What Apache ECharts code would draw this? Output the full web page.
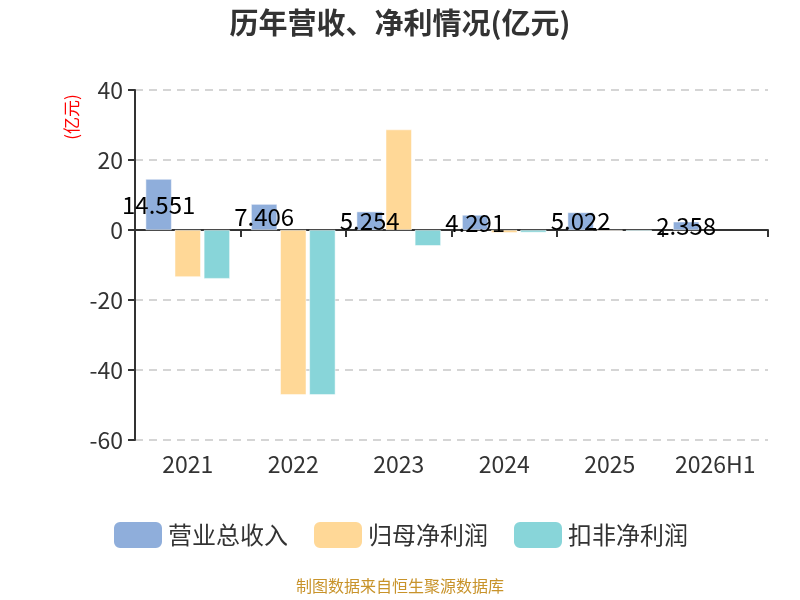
<!DOCTYPE html>
<html>
<head>
<meta charset="utf-8">
<script src="https://cdn.jsdelivr.net/npm/echarts@6/dist/echarts.min.js"></script>
<style>
  html, body { margin: 0; padding: 0; background: #fff; }
  #main { width: 800px; height: 600px; }
</style>
</head>
<body>
<div id="main"></div>
<script>
var years = ['2021', '2022', '2023', '2024', '2025', '2026H1'];
var revenue = [14.551, 7.406, 5.254, 4.291, 5.022, 2.358];
var netProfit = [-13.4, -47.1, 28.7, -0.8, -0.2, null];
var deductedProfit = [-13.9, -47.1, -4.5, -0.7, -0.3, null];
var yTicks = { min: -60, max: 40, interval: 20 };

var font = '"Noto Sans CJK SC", "Noto Sans", sans-serif';
var chart = echarts.init(document.getElementById('main'));

chart.setOption({
  backgroundColor: '#fff',
  title: {
    text: '历年营收、净利情况(亿元)',
    left: 'center',
    top: 3,
    textStyle: { fontSize: 29, fontWeight: 'bold', color: '#333', fontFamily: font }
  },
  legend: {
    data: ['营业总收入', '归母净利润', '扣非净利润'],
    bottom: 45,
    left: 'center',
    itemWidth: 50,
    itemHeight: 28,
    itemGap: 24,
    icon: 'roundRect',
    textStyle: { fontSize: 24, color: '#333', fontFamily: font }
  },
  graphic: [{
    type: 'text',
    left: 'center',
    top: 578,
    style: { text: '制图数据来自恒生聚源数据库', fontSize: 16, fill: '#c8932a', fontFamily: font }
  }, {
    // 纵轴单位
    type: 'text',
    x: 72,
    y: 117,
    rotation: Math.PI / 2,
    style: {
      text: '(亿元)', fontSize: 17, fill: '#ff0000', fontFamily: font,
      align: 'center', verticalAlign: 'middle'
    }
  }],
  grid: { left: 135, right: 32, top: 90, bottom: 160 },
  xAxis: [{
    type: 'category',
    data: years,
    axisLine: { onZero: true, lineStyle: { color: '#333', width: 2 } },
    axisTick: { show: true, length: 7, lineStyle: { color: '#333', width: 2 } },
    axisLabel: { show: false }
  }, {
    type: 'category',
    data: years,
    position: 'bottom',
    axisLine: { show: false, onZero: false },
    axisTick: { show: false },
    axisLabel: { fontSize: 23, color: '#333', margin: 13, fontFamily: font }
  }],
  yAxis: {
    type: 'value',
    min: yTicks.min,
    max: yTicks.max,
    interval: yTicks.interval,
    axisLine: { show: true, lineStyle: { color: '#333', width: 2 } },
    axisTick: { show: true, length: 7, lineStyle: { color: '#333', width: 2 } },
    axisLabel: { fontSize: 23, color: '#333', margin: 12, fontFamily: font },
    splitLine: { show: true, lineStyle: { color: '#c8c8c8', type: [8, 6], width: 1.5 } }
  },
  series: [{
    name: '营业总收入',
    type: 'bar',
    data: revenue,
    barWidth: 26,
    barGap: '12%',
    itemStyle: { color: '#8faedb', borderColor: '#fff', borderWidth: 0.5 },
    label: { show: true, position: 'inside', fontSize: 24, color: '#000', fontFamily: font }
  }, {
    name: '归母净利润',
    type: 'bar',
    data: netProfit,
    barWidth: 26,
    barGap: '12%',
    itemStyle: { color: '#ffd897', borderColor: '#fff', borderWidth: 0.5 }
  }, {
    name: '扣非净利润',
    type: 'bar',
    data: deductedProfit,
    barWidth: 26,
    barGap: '12%',
    itemStyle: { color: '#88d5d9', borderColor: '#fff', borderWidth: 0.5 }
  }]
});
</script>
</body>
</html>
